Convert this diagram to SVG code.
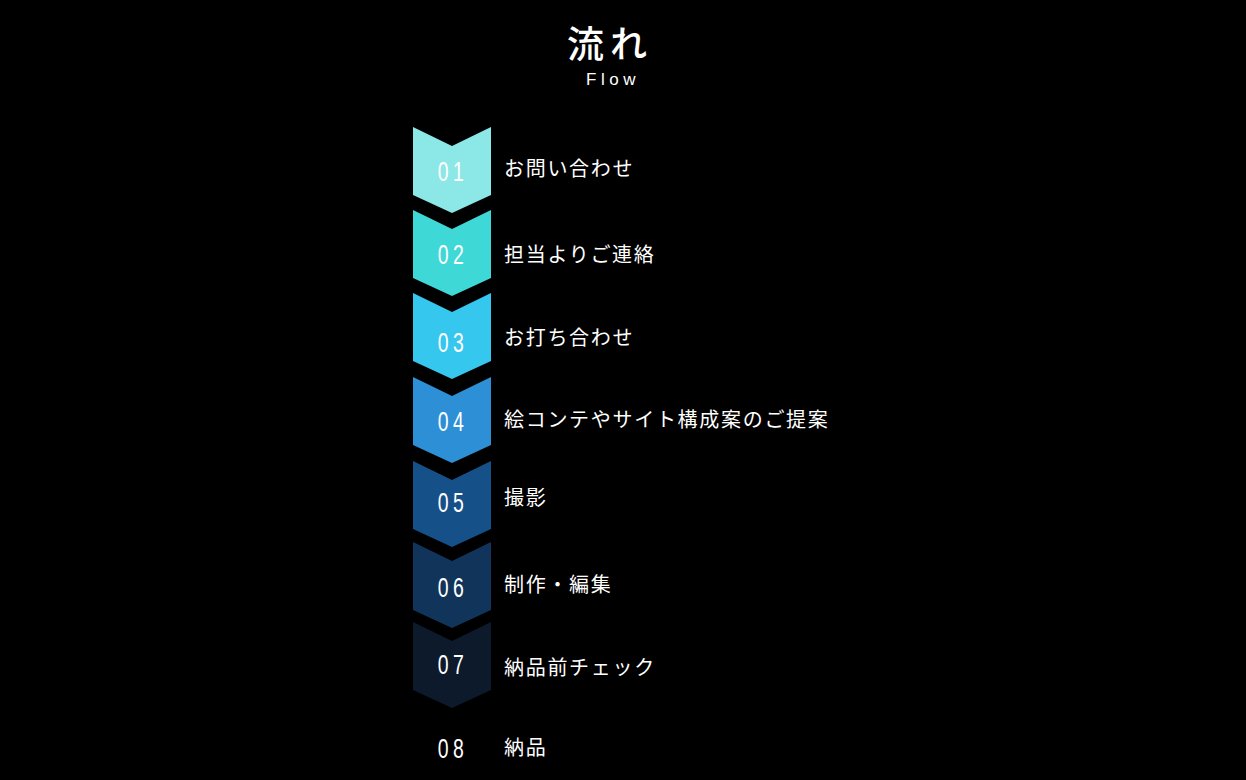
<svg xmlns="http://www.w3.org/2000/svg" width="1246" height="780" viewBox="0 0 1246 780">
<style>
.num{font-family:"Liberation Sans","Noto Sans",sans-serif;font-size:27px;fill:#ffffff;text-anchor:middle;letter-spacing:6px}
.lbl{font-family:"Noto Sans CJK JP","Noto Sans",sans-serif;font-size:20px;fill:#ffffff;letter-spacing:1.7px}
.title{font-family:"Noto Sans CJK JP",sans-serif;font-size:37px;fill:#ffffff;text-anchor:middle;letter-spacing:6px;font-weight:500}
.sub{font-family:"Liberation Sans","Noto Sans",sans-serif;font-size:17px;fill:#ffffff;text-anchor:middle;letter-spacing:4.5px}
</style>
<defs>
<path id="chev" d="M-39,0 L0,19 L39,0 L39,68 L0,86 L-39,68 Z"/>
</defs>
<rect width="1246" height="780" fill="#000000"/>
<g id="title">
<text class="title" x="610" y="58">流れ</text>
<text class="sub" x="613" y="85">Flow</text>
</g>
<g id="connectors"></g>
<g id="step01">
<use href="#chev" x="452" y="127" fill="#8be8e6"/>
<text class="num" transform="translate(453,181) scale(0.72,1)">01</text>
<text class="lbl" x="504" y="176">お問い合わせ</text>
</g>
<g id="step02">
<use href="#chev" x="452" y="210" fill="#3ed9d6"/>
<text class="num" transform="translate(453,264) scale(0.72,1)">02</text>
<text class="lbl" x="504" y="262">担当よりご連絡</text>
</g>
<g id="step03">
<use href="#chev" x="452" y="293" fill="#36c7ef"/>
<text class="num" transform="translate(453,352) scale(0.72,1)">03</text>
<text class="lbl" x="504" y="345">お打ち合わせ</text>
</g>
<g id="step04">
<use href="#chev" x="452" y="377" fill="#2d8fd6"/>
<text class="num" transform="translate(453,431) scale(0.72,1)">04</text>
<text class="lbl" x="504" y="427">絵コンテやサイト構成案のご提案</text>
</g>
<g id="step05">
<use href="#chev" x="452" y="461" fill="#165089"/>
<text class="num" transform="translate(453,512) scale(0.72,1)">05</text>
<text class="lbl" x="504" y="505">撮影</text>
</g>
<g id="step06">
<use href="#chev" x="452" y="542" fill="#11345a"/>
<text class="num" transform="translate(453,597) scale(0.72,1)">06</text>
<text class="lbl" x="504" y="592">制作・編集</text>
</g>
<g id="step07">
<use href="#chev" x="452" y="622" fill="#0c1a2c"/>
<text class="num" transform="translate(453,674) scale(0.72,1)">07</text>
<text class="lbl" x="504" y="675">納品前チェック</text>
</g>
<g id="step08">
<text class="num" transform="translate(453,758) scale(0.72,1)">08</text>
<text class="lbl" x="504" y="755">納品</text>
</g>
</svg>
